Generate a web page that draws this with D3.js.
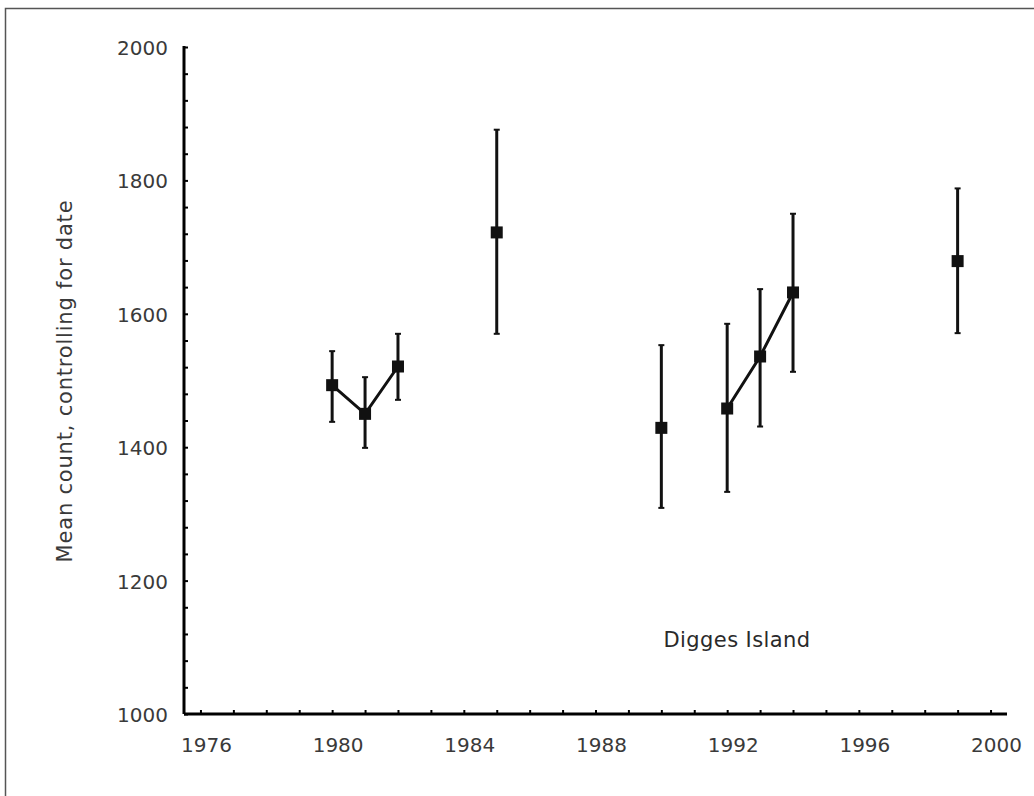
<!DOCTYPE html>
<html>
<head>
<meta charset="utf-8">
<script src="https://cdn.jsdelivr.net/npm/d3@7"></script>
<style>
  body { margin: 0; background: #fff; }
  text { font-family: "DejaVu Sans", Arial, sans-serif; }
</style>
</head>
<body>
<svg id="chart" width="1034" height="796"></svg>
<script>
// data
const years = [1980, 1981, 1982, 1985, 1990, 1992, 1993, 1994, 1999]
const means = [1493, 1450, 1521, 1722, 1429, 1458, 1536, 1632, 1679]
const upper = [1544, 1505, 1570, 1876, 1553, 1585, 1637, 1750, 1788]
const lower = [1438, 1399, 1471, 1570, 1309, 1333, 1431, 1513, 1571]
// runs of years joined by a line
const linkedRuns = [[1980, 1981, 1982], [1992, 1993, 1994]]
const xTickLabels = [1976, 1980, 1984, 1988, 1992, 1996, 2000]
const yTickLabels = [1000, 1200, 1400, 1600, 1800, 2000]

const svg = d3.select('#chart')

// frame round the figure
svg.append('rect')
  .attr('x', 5.5).attr('y', 8.5)
  .attr('width', 1040).attr('height', 800)
  .attr('fill', 'none').attr('stroke', '#555').attr('stroke-width', 1.5)

const plotLeft = 184
const plotRight = 1007
const plotTop = 46
const plotBottom = 714

const xScale = d3.scaleLinear().domain([1975.5, 2000.5]).range([plotLeft, plotRight])
const yScale = d3.scaleLinear().domain([1000, 2000]).range([plotBottom, plotTop + 1])

const g = svg.append('g')

// x axis: minor tick every year, labels every 4
const xAxis = g.append('g').attr('transform', 'translate(0,' + plotBottom + ')')
xAxis.call(d3.axisBottom(xScale).tickValues(d3.range(1976, 2001)).tickSize(-4).tickFormat(''))
xAxis.select('.domain').attr('stroke-width', 3).attr('d', 'M' + plotLeft + ',0H' + plotRight)
xAxis.selectAll('.tick line').attr('stroke-width', 2)
g.append('g').selectAll('text').data(xTickLabels).join('text')
  .attr('x', function(d) { return xScale(d) + 6 })
  .attr('y', plotBottom + 38)
  .attr('text-anchor', 'middle')
  .attr('font-size', 20)
  .attr('fill', '#3a3a3a')
  .text(function(d) { return d })

// y axis: minor tick every 40, labels every 200
const yAxis = g.append('g').attr('transform', 'translate(' + plotLeft + ',0)')
yAxis.call(d3.axisLeft(yScale).tickValues(d3.range(1000, 2001, 40)).tickSize(-4).tickFormat(''))
yAxis.select('.domain').attr('stroke-width', 3).attr('d', 'M0,' + plotBottom + 'V' + plotTop)
yAxis.selectAll('.tick line').attr('stroke-width', 2)
g.append('g').selectAll('text').data(yTickLabels).join('text')
  .attr('x', plotLeft - 16)
  .attr('y', function(d) { return yScale(d) + 8 })
  .attr('text-anchor', 'end')
  .attr('font-size', 20)
  .attr('fill', '#3a3a3a')
  .text(function(d) { return d })

// y axis title
svg.append('text')
  .attr('transform', 'translate(72,381) rotate(-90)')
  .attr('text-anchor', 'middle')
  .attr('font-size', 21)
  .attr('letter-spacing', 0.8)
  .attr('fill', '#3a3a3a')
  .text('Mean count, controlling for date')

svg.append('text')
  .attr('x', 737).attr('y', 647)
  .attr('text-anchor', 'middle')
  .attr('font-size', 21)
  .attr('letter-spacing', 0.4)
  .attr('fill', '#2a2a2a')
  .text('Digges Island')

const points = years.map(function(y, i) {
  return { year: y, mean: means[i], hi: upper[i], lo: lower[i] }
})

// error bars
const bars = g.append('g').selectAll('g').data(points).join('g')
bars.append('line')
  .attr('x1', function(d) { return xScale(d.year) })
  .attr('x2', function(d) { return xScale(d.year) })
  .attr('y1', function(d) { return yScale(d.hi) })
  .attr('y2', function(d) { return yScale(d.lo) })
  .attr('stroke', '#111').attr('stroke-width', 3)
bars.selectAll('.cap').data(function(d) { return [[d.year, d.hi], [d.year, d.lo]] }).join('line')
  .attr('class', 'cap')
  .attr('x1', function(d) { return xScale(d[0]) - 3 })
  .attr('x2', function(d) { return xScale(d[0]) + 3 })
  .attr('y1', function(d) { return yScale(d[1]) })
  .attr('y2', function(d) { return yScale(d[1]) })
  .attr('stroke', '#111').attr('stroke-width', 2)

// connecting lines
const line = d3.line()
  .x(function(d) { return xScale(d.year) })
  .y(function(d) { return yScale(d.mean) })
g.append('g').selectAll('path')
  .data(linkedRuns.map(function(run) {
    return points.filter(function(p) { return run.includes(p.year) })
  }))
  .join('path')
  .attr('d', line)
  .attr('fill', 'none').attr('stroke', '#111').attr('stroke-width', 3)

// square markers
const size = 12
g.append('g').selectAll('rect').data(points).join('rect')
  .attr('x', function(d) { return xScale(d.year) - size / 2 })
  .attr('y', function(d) { return yScale(d.mean) - size / 2 })
  .attr('width', size).attr('height', size)
  .attr('fill', '#111')
</script>
</body>
</html>
